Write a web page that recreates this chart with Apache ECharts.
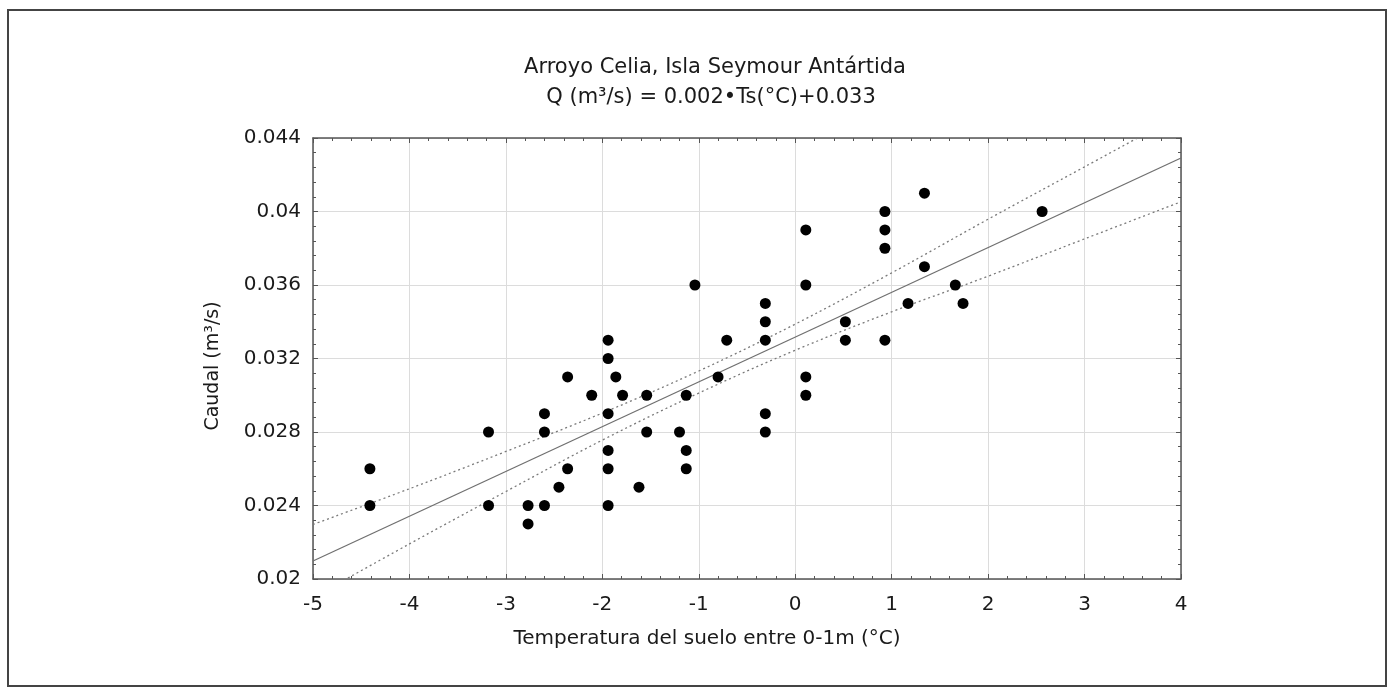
<!DOCTYPE html>
<html>
<head>
<meta charset="utf-8">
<title>Arroyo Celia, Isla Seymour Antártida</title>
<script src="https://cdn.jsdelivr.net/npm/echarts@6/dist/echarts.min.js"></script>
<style>
  html, body { margin: 0; padding: 0; background: #fff; }
  #chart { width: 1394px; height: 694px; }
</style>
</head>
<body>
<div id="chart"></div>
<script>
// Observed soil temperature (°C) and discharge (m³/s), one entry per measurement
const tempC = [
  -4.41, -4.41,
  -3.18, -3.18,
  -2.77, -2.77,
  -2.60, -2.60, -2.60,
  -2.45,
  -2.36, -2.36,
  -2.11,
  -1.94, -1.94, -1.94, -1.94, -1.94, -1.94,
  -1.86,
  -1.79,
  -1.62,
  -1.54, -1.54,
  -1.20,
  -1.13, -1.13, -1.13,
  -1.04,
  -0.80,
  -0.71,
  -0.31, -0.31, -0.31, -0.31, -0.31,
  0.11, 0.11, 0.11, 0.11,
  0.52, 0.52,
  0.93, 0.93, 0.93, 0.93,
  1.17,
  1.34, 1.34,
  1.66,
  1.74,
  2.56
];
const caudal = [
  0.026, 0.024,
  0.028, 0.024,
  0.024, 0.023,
  0.024, 0.028, 0.029,
  0.025,
  0.031, 0.026,
  0.030,
  0.033, 0.032, 0.029, 0.027, 0.026, 0.024,
  0.031,
  0.030,
  0.025,
  0.030, 0.028,
  0.028,
  0.030, 0.027, 0.026,
  0.036,
  0.031,
  0.033,
  0.035, 0.034, 0.033, 0.029, 0.028,
  0.039, 0.036, 0.031, 0.030,
  0.034, 0.033,
  0.040, 0.039, 0.038, 0.033,
  0.035,
  0.037, 0.041,
  0.036,
  0.035,
  0.040
];

// Fitted regression line (end points across the x range)
const fitX = [-5, 4];
const fitY = [0.02098, 0.04291];

// 95% confidence band of the fit
const bandX = [-5, -4, -3, -2, -1, 0, 1, 2, 3, 4];
const bandUpper = [0.02297, 0.02491, 0.02694, 0.02903, 0.03132, 0.03387, 0.03666, 0.03958, 0.04243, 0.04529];
const bandLower = [0.01899, 0.02191, 0.02476, 0.02756, 0.03012, 0.03245, 0.03454, 0.03648, 0.03851, 0.04053];

// Axis ranges and tick labels
const xTicks = [-5, -4, -3, -2, -1, 0, 1, 2, 3, 4];
const yTicks = ['0.02', '0.024', '0.028', '0.032', '0.036', '0.04', '0.044'];

const titleLines = ['Arroyo Celia, Isla Seymour Antártida', 'Q (m³/s) = 0.002•Ts(°C)+0.033'];
const xName = 'Temperatura del suelo entre 0-1m (°C)';
const yName = 'Caudal (m³/s)';

const FONT = '"DejaVu Sans", "Liberation Sans", sans-serif';
const TEXT = '#1a1a1a';
const AXIS = '#555';

const zip = (xs, ys) => xs.map((x, i) => [x, ys[i]]);

const frameAxisX = (pos, labels) => ({
  type: 'value', position: pos,
  min: xTicks[0], max: xTicks[xTicks.length - 1], interval: 1,
  axisLine: { show: true, onZero: false, lineStyle: { color: AXIS, width: 1.5 } },
  axisTick: { show: true, inside: true, length: 5, lineStyle: { color: AXIS } },
  minorTick: { show: true, splitNumber: 5, length: 3, lineStyle: { color: AXIS } },
  splitLine: { show: labels, lineStyle: { color: '#dcdcdc', width: 1 } },
  axisLabel: {
    show: labels, margin: 16, fontFamily: FONT, fontSize: 20, color: TEXT,
    formatter: v => String(v)
  }
});

const frameAxisY = (pos, labels) => ({
  type: 'value', position: pos,
  min: Number(yTicks[0]), max: Number(yTicks[yTicks.length - 1]), interval: 0.004,
  axisLine: { show: true, onZero: false, lineStyle: { color: AXIS, width: 1.5 } },
  axisTick: { show: true, inside: true, length: 5, lineStyle: { color: AXIS } },
  minorTick: { show: true, splitNumber: 5, length: 3, lineStyle: { color: AXIS } },
  splitLine: { show: labels, lineStyle: { color: '#dcdcdc', width: 1 } },
  axisLabel: {
    show: labels, margin: 12, fontFamily: FONT, fontSize: 20, color: TEXT,
    formatter: v => {
      const s = Number(v).toFixed(3);
      return yTicks.find(t => Number(t).toFixed(3) === s) || s;
    }
  }
});

const chart = echarts.init(document.getElementById('chart'), null, { renderer: 'canvas' });

chart.setOption({
  backgroundColor: '#fff',
  animation: false,
  grid: { left: 313, right: 213, top: 138, bottom: 115, containLabel: false },
  xAxis: [frameAxisX('bottom', true), frameAxisX('top', false)],
  yAxis: [frameAxisY('left', true), frameAxisY('right', false)],
  graphic: [
    { type: 'rect', shape: { x: 8, y: 10, width: 1378, height: 676 },
      style: { fill: 'none', stroke: '#444', lineWidth: 2 }, silent: true },
    { type: 'text', x: 715, y: 68,
      style: { text: titleLines[0], fontFamily: FONT, fontSize: 21, fill: TEXT,
               textAlign: 'center', textVerticalAlign: 'middle' } },
    { type: 'text', x: 711, y: 98,
      style: { text: titleLines[1], fontFamily: FONT, fontSize: 21, fill: TEXT,
               textAlign: 'center', textVerticalAlign: 'middle' } },
    { type: 'text', x: 707, y: 639,
      style: { text: xName, fontFamily: FONT, fontSize: 20, fill: TEXT,
               textAlign: 'center', textVerticalAlign: 'middle' } },
    { type: 'text', x: 213, y: 366, rotation: Math.PI / 2,
      style: { text: yName, fontFamily: FONT, fontSize: 19, fill: TEXT,
               textAlign: 'center', textVerticalAlign: 'middle' } }
  ],
  series: [
    {
      name: 'upper', type: 'line', data: zip(bandX, bandUpper), smooth: 0.35,
      showSymbol: false, clip: true, silent: true,
      lineStyle: { color: '#7a7a7a', width: 1.3, type: [2, 3] }
    },
    {
      name: 'lower', type: 'line', data: zip(bandX, bandLower), smooth: 0.35,
      showSymbol: false, clip: true, silent: true,
      lineStyle: { color: '#7a7a7a', width: 1.3, type: [2, 3] }
    },
    {
      name: 'fit', type: 'line', data: zip(fitX, fitY),
      showSymbol: false, clip: true, silent: true,
      lineStyle: { color: '#707070', width: 1.3 }
    },
    {
      name: 'obs', type: 'scatter', data: zip(tempC, caudal),
      symbol: 'circle', symbolSize: 11, z: 5,
      itemStyle: { color: '#000', opacity: 1 }
    }
  ]
});
</script>
</body>
</html>
